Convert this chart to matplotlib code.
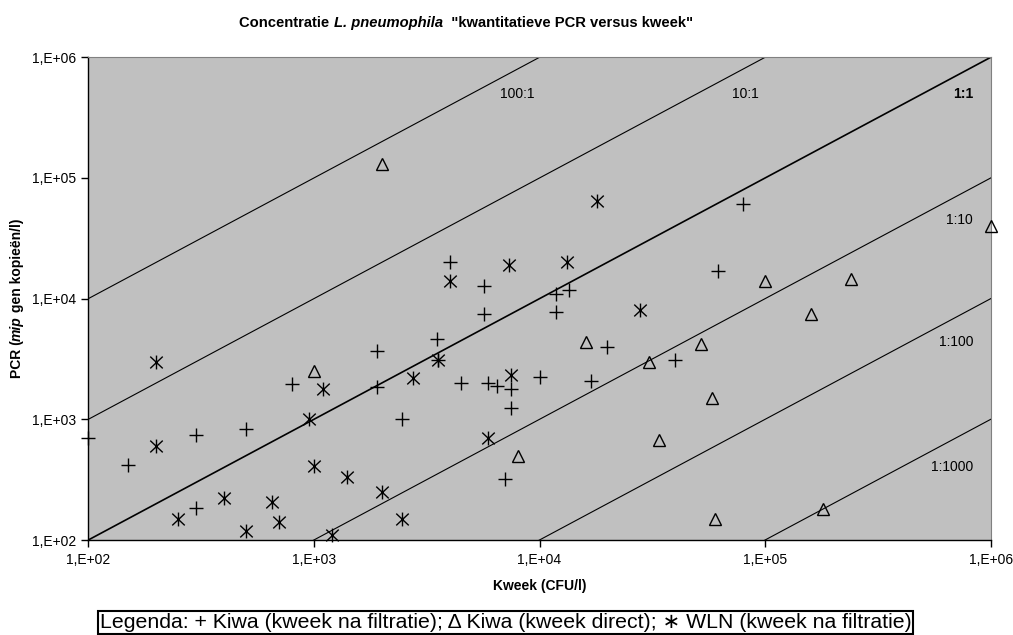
import numpy as np
import matplotlib
matplotlib.use("Agg")
import matplotlib.pyplot as plt
from matplotlib.path import Path

plt.rcParams['font.family'] = ['Liberation Sans', 'DejaVu Sans']

# Kiwa (kweek na filtratie)  -> plus
kiwa_filt_x = [100, 150, 300, 300, 500, 800, 1900, 1900, 2450, 3500, 3550, 4000, 4500,
               5700, 5700, 5900, 6500, 7000, 7500, 7500, 10000, 11800, 13500, 11800,
               17000, 20000, 40000, 62000, 80000]
kiwa_filt_y = [700, 420, 740, 185, 830, 1950, 3700, 1870, 1000, 4600, 3100, 20000, 2000,
               12700, 7400, 2000, 1900, 320, 1800, 1230, 2230, 11000, 11800, 7800,
               2070, 4000, 3100, 17000, 61000]

# Kiwa (kweek direct) -> triangle
kiwa_dir_x = [1000, 2000, 8000, 16000, 30700, 34000, 52000, 58000, 60000, 100000,
              160000, 180000, 240000, 1000000]
kiwa_dir_y = [2500, 130000, 500, 4400, 3000, 680, 4200, 1500, 148, 14000,
              7400, 180, 14500, 40000]

# WLN (kweek na filtratie) -> asterisk
wln_x = [200, 200, 250, 400, 500, 650, 700, 950, 1000, 1100, 1200, 1400, 2000, 2450,
         2740, 3550, 4000, 5900, 7300, 7500, 13300, 18000, 28000]
wln_y = [3000, 600, 150, 224, 119, 205, 142, 1000, 410, 1800, 111, 330, 250, 150,
         2200, 3100, 14000, 700, 19000, 2350, 20000, 65000, 8000]

# ratio lines PCR = r * kweek
ratios = [100, 10, 1, 0.1, 0.01, 0.001]
ratio_labels = ['100:1', '10:1', '1:1', '1:10', '1:100', '1:1000']
label_x = [8000, 82000, 835000, 835000, 835000, 835000]
label_y = [495000, 495000, 495000, 44800, 4400, 404]
label_ha = ['center', 'center', 'right', 'right', 'right', 'right']

W, H = 1013, 635
fig = plt.figure(figsize=(W / 100, H / 100), dpi=100)
ax = fig.add_axes([88.3 / W, 1 - 540 / H, 902.4 / W, 482.7 / H])
ax.set_facecolor('#c0c0c0')
ax.set_xscale('log')
ax.set_yscale('log')
ax.set_xlim(1e2, 1e6)
ax.set_ylim(1e2, 1e6)

xx = np.array([1e2, 1e6])
for r in ratios:
    ax.plot(xx, r * xx, color='black', lw=1.2 if r == 1 else 0.8, zorder=2)
for t, x, y, ha in zip(ratio_labels, label_x, label_y, label_ha):
    ax.text(x, y, t, ha=ha, va='center', fontsize=10,
            fontweight='bold' if t == '1:1' else 'normal')

star = Path([(0, -1), (0, 1), (-0.9, -0.85), (0.9, 0.85), (-0.9, 0.85), (0.9, -0.85)],
            [Path.MOVETO, Path.LINETO] * 3)

ax.plot(kiwa_filt_x, kiwa_filt_y, ls='none', marker='+', ms=9.5, mew=1.0,
        color='black', clip_on=False, zorder=3)
ax.plot(kiwa_dir_x, kiwa_dir_y, ls='none', marker='^', ms=8.5, mew=1.0,
        mfc='none', mec='black', clip_on=False, zorder=3)
ax.plot(wln_x, wln_y, ls='none', marker=star, ms=10, mew=1.0,
        color='black', clip_on=False, zorder=3)

ax.minorticks_off()
ticks = [1e2, 1e3, 1e4, 1e5, 1e6]
tick_labels = ['1,E+02', '1,E+03', '1,E+04', '1,E+05', '1,E+06']
ax.set_xticks(ticks)
ax.set_xticklabels(tick_labels)
ax.set_yticks(ticks)
ax.set_yticklabels(tick_labels)
ax.tick_params(direction='out', length=5, width=1, labelsize=10, pad=4)
for s in ['top', 'right']:
    ax.spines[s].set_color('#808080')
for s in ['left', 'bottom']:
    ax.spines[s].set_color('black')
    ax.spines[s].set_linewidth(1.0)

ax.set_xlabel('Kweek (CFU/l)', fontsize=10, fontweight='bold', labelpad=9)

renderer = fig.canvas.get_renderer()


def rich_h(xc, y, parts, size):
    objs = [fig.text(0, y, s, fontsize=size, ha='left', va='center', **st) for s, st in parts]
    widths = [o.get_window_extent(renderer).width for o in objs]
    x = xc * W - sum(widths) / 2
    for o, w in zip(objs, widths):
        o.set_x(x / W)
        x += w


def rich_v(x, yc, parts, size):
    objs = [fig.text(x, 0, s, fontsize=size, rotation=90, ha='center', va='bottom', **st)
            for s, st in parts]
    heights = [o.get_window_extent(renderer).height for o in objs]
    y = yc * H - sum(heights) / 2
    for o, h in zip(objs, heights):
        o.set_y(y / H)
        y += h


b = dict(fontweight='bold')
bi = dict(fontweight='bold', fontstyle='italic')
rich_h(0.5 * (240 + 692) / W, 1 - 23 / H,
       [('Concentratie ', b), ('L. pneumophila', bi), ('  "kwantitatieve PCR versus kweek"', b)], 10.6)
rich_v(17 / W, 1 - 298.5 / H,
       [('PCR (', b), ('mip', bi), (' gen kopieën/l)', b)], 10)

fig.text(505.5 / W, 1 - 622.5 / H,
         'Legenda: + Kiwa (kweek na filtratie); Δ Kiwa (kweek direct); ∗ WLN (kweek na filtratie)',
         ha='center', va='center', fontsize=15.3,
         bbox=dict(boxstyle='square,pad=0.08', fc='white', ec='black', lw=1.5))

fig.savefig('out.png', dpi=100)
